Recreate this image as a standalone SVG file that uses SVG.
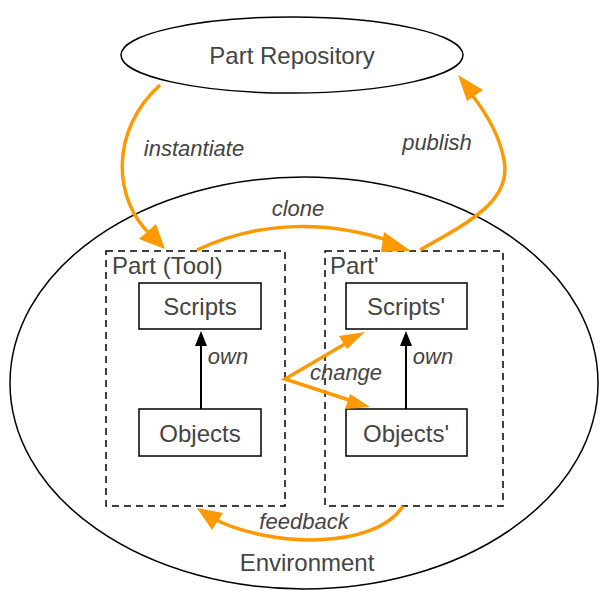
<svg xmlns="http://www.w3.org/2000/svg" width="600" height="591" viewBox="0 0 600 591">
<style>
text{font-family:"Liberation Sans",Arial,sans-serif;fill:#444;}
.n{font-size:24px;text-anchor:middle;}
.t{font-size:24px;}
.l{font-size:22px;font-style:italic;text-anchor:middle;}
.e{fill:none;stroke:#000;stroke-width:1.5;}
.box{fill:#fff;stroke:#000;stroke-width:1.5;}
.dash{fill:none;stroke:#000;stroke-width:1.5;stroke-dasharray:7,5;}
.o{fill:none;stroke:#f90;stroke-width:3.5;}
.k{fill:none;stroke:#000;stroke-width:2;}
</style>
<g id="repo">
<ellipse class="e" cx="292" cy="55" rx="171" ry="38"/>
<text class="n" x="292" y="64">Part Repository</text>
</g>
<g id="env">
<ellipse class="e" cx="304" cy="383" rx="294" ry="206"/>
<text class="n" x="307" y="571">Environment</text>
</g>
<g id="part-tool">
<rect class="dash" x="106" y="251" width="179" height="255"/>
<text class="t" x="112" y="274">Part (Tool)</text>
</g>
<g id="part-prime">
<rect class="dash" x="325" y="251" width="178" height="255"/>
<text class="t" x="330" y="274">Part'</text>
</g>
<g id="scripts">
<rect class="box" x="139" y="283" width="122" height="46"/>
<text class="n" x="200" y="315">Scripts</text>
</g>
<g id="objects">
<rect class="box" x="139" y="409" width="122" height="47"/>
<text class="n" x="200" y="442">Objects</text>
</g>
<g id="scripts-prime">
<rect class="box" x="346" y="283" width="121" height="46"/>
<text class="n" x="406" y="315">Scripts'</text>
</g>
<g id="objects-prime">
<rect class="box" x="346" y="409" width="121" height="47"/>
<text class="n" x="406" y="442">Objects'</text>
</g>
<g id="connectors">
<line class="k" x1="201" y1="409" x2="201" y2="345"/>
<polygon points="201,331 195,346 207,346" fill="#000"/>
<line class="k" x1="406" y1="409" x2="406" y2="345"/>
<polygon points="406,331 400,346 412,346" fill="#000"/>
<path class="o" d="M160,85 C110,130 112,200 152,236"/>
<polygon points="165,249 139,239 156,224" fill="#f90"/>
<path class="o" d="M420,250 C470,222 512,200 504,160 C500,138 490,118 472,95"/>
<polygon points="458,75 467,101 483,90" fill="#f90"/>
<path class="o" d="M197,250 C260,220 330,220 396,243"/>
<polygon points="411,251 384,232 381,252" fill="#f90"/>
<path class="o" d="M403,506 C375,550 270,548 212,518"/>
<polygon points="197,508 223,513 212,530" fill="#f90"/>
<path class="o" d="M350,341 L285,379 L355,402"/>
<polygon points="365,332 347,349 339,336" fill="#f90"/>
<polygon points="370,407 345,409 350,394" fill="#f90"/>
<text class="l" x="194" y="156">instantiate</text>
<text class="l" x="437" y="150">publish</text>
<text class="l" x="298" y="216">clone</text>
<text class="l" x="228" y="364">own</text>
<text class="l" x="346" y="380">change</text>
<text class="l" x="433" y="364">own</text>
<text class="l" x="304" y="529">feedback</text>
</g>
</svg>
